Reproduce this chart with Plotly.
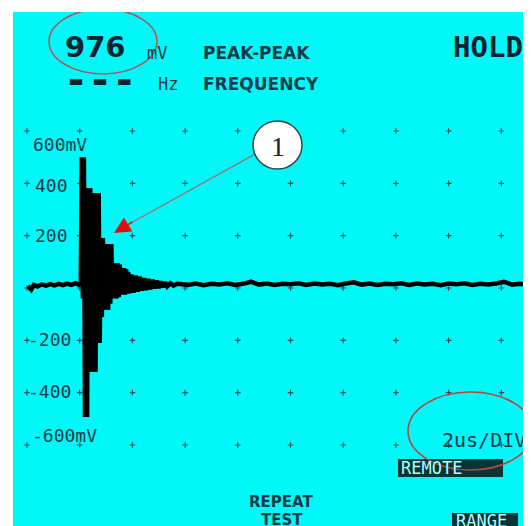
import plotly.graph_objects as go

# ---------------- data (time in microseconds, amplitude in mV) ----------------
pre_t = [0.04, 0.16, 0.26, 0.40, 0.56, 0.72, 0.88, 1.04, 1.20, 1.36, 1.52, 1.68, 1.84, 1.96, 2.04]
pre_v = [8, -6, 12, 6, 14, 9, 15, 10, 16, 11, 17, 12, 18, 13, 16]

ring_t = [2.08, 2.12, 2.16, 2.20, 2.24, 2.28, 2.32, 2.36, 2.40, 2.44,
          2.48, 2.52, 2.56, 2.60, 2.64, 2.68, 2.72, 2.76, 2.80, 2.84,
          2.88, 2.92, 2.96, 3.00, 3.04, 3.08, 3.12, 3.16, 3.20, 3.24,
          3.28, 3.32, 3.36, 3.40, 3.44, 3.48, 3.52, 3.56, 3.60, 3.64,
          3.68, 3.72, 3.76, 3.80, 3.84, 3.88]
ring_v = [500, -40, 500, -493, 382, -493, 382, -46, 382, -321,
          363, -321, 363, -321, 363, -210, 363, -210, 191, -111,
          191, -84, 80, -84, 168, -84, 168, -60, 168, -40,
          95, -40, 95, -40, 95, -35, 90, -25, 76, -25,
          76, -25, 72, -22, 62, -20]

tail_t = [3.96, 4.04, 4.12, 4.20, 4.28, 4.36, 4.44, 4.52, 4.60, 4.68,
          4.76, 4.84, 4.92, 5.00, 5.08, 5.16, 5.24, 5.32, 5.44, 5.56, 5.70]
tail_v = [52, -18, 48, -14, 44, -10, 38, -8, 35, -5,
          32, -2, 28, 0, 25, 3, 22, 6, 18, 9, 16]

post_t = [5.8, 6.1, 6.4, 6.7, 7.0, 7.3, 7.6, 7.9, 8.2, 8.5,
          8.8, 9.1, 9.4, 9.7, 10.0, 10.3, 10.6, 10.9, 11.2, 11.5,
          11.8, 12.1, 12.4, 12.7, 13.0, 13.3, 13.6, 13.9, 14.2, 14.5,
          14.8, 15.1, 15.4, 15.7, 16.0, 16.3, 16.6, 16.9, 17.2, 17.5,
          17.8, 18.1, 18.4, 18.7, 19.0, 19.2]
post_v = [15, 12, 17, 11, 16, 13, 18, 12, 16, 24,
          13, 17, 12, 16, 14, 18, 12, 17, 13, 16,
          11, 17, 22, 13, 17, 12, 16, 14, 18, 12,
          17, 13, 16, 11, 17, 14, 18, 12, 16, 13,
          17, 24, 13, 16, 12, 15]

grid_t = [0, 2, 4, 6, 8, 10, 12, 14, 16, 18]
grid_v = [-600, -400, -200, 0, 200, 400, 600]

ytick_values = [600, 400, 200, -200, -400, -600]
ytick_labels = ["600mV", "400", "200", "-200", "-400", "-600mV"]

reading_value = "976"
freq_value = "---"
timebase = "2us/DIV"

# ---------------- pixel <-> data helpers (layout only, window pixels) ----------------
PX_PER_US = 52.7 / 2
X_ZERO_PX = 27
MV_PER_PX = 1200 / 314
Y_ZERO_PX = 288


def tx(px):
    return (px - X_ZERO_PX) / PX_PER_US


def vy(py):
    return (Y_ZERO_PX - py) * MV_PER_PX


WIN_W, WIN_H = 531, 526
BODY = 8                      # default page margin around the plot div
LEFT, TOP = 13, 12            # cyan panel starts here in the window
CYAN = "#00f8f8"
INK = "#0f3c48"

t_all = pre_t + ring_t + tail_t + post_t
v_all = pre_v + ring_v + tail_v + post_v

fig = go.Figure()

# grid dots
gx = [t for t in grid_t for v in grid_v]
gy = [v for t in grid_t for v in grid_v]
fig.add_trace(go.Scatter(
    x=gx, y=gy, mode="markers",
    marker=dict(symbol="cross-thin", size=4, line=dict(width=1.1, color="#1e4c56")),
    hoverinfo="skip", showlegend=False))

# waveform
fig.add_trace(go.Scatter(
    x=t_all, y=v_all, mode="lines",
    line=dict(color="#000000", width=4.5, simplify=False),
    hoverinfo="skip", showlegend=False))

annotations = []


def txt(text, px, py, size, color=INK, family="DejaVu Sans Mono", xanchor="left",
        yanchor="middle", bold=False):
    annotations.append(dict(
        text=text, x=tx(px), y=vy(py), xref="x", yref="y", showarrow=False,
        xanchor=xanchor, yanchor=yanchor,
        font=dict(size=size, color=color, family=family, weight="bold" if bold else "normal")))


# header readouts
txt(reading_value, 63, 47, 29, color="#0a2430", family="DejaVu Sans", bold=True)
txt(freq_value, 62, 80, 40, color="#0a2430", family="DejaVu Sans Mono", bold=True)
txt("mV", 145, 53, 17)
txt("PEAK-PEAK", 201, 53, 17, family="DejaVu Sans", bold=True)
txt("Hz", 156, 84, 17)
txt("FREQUENCY", 201, 84, 17, family="DejaVu Sans", bold=True)
txt("HOLD", 451, 47, 29, color="#0a2430", bold=True)

# y-axis labels
label_x = [31, 33, 33, 26, 26, 30]
label_shift = [13, 2, 0, -1, -1, -10]
for val, lab, lx, sh in zip(ytick_values, ytick_labels, label_x, label_shift):
    py = Y_ZERO_PX - val / MV_PER_PX + sh
    txt(lab, lx, py, 18)

# timebase
txt(timebase, 440, 440, 20)

# soft keys
txt("REPEAT", 281, 502, 15, family="DejaVu Sans", xanchor="center", bold=True)
txt("TEST", 282, 520, 15, family="DejaVu Sans", xanchor="center", bold=True)

shapes = []
# REMOTE and RANGE boxes
shapes.append(dict(type="rect", xref="x", yref="y", x0=tx(398), x1=tx(503), y0=vy(459), y1=vy(477),
                   fillcolor="#0b3436", line=dict(width=0), layer="above"))
shapes.append(dict(type="rect", xref="x", yref="y", x0=tx(452), x1=tx(518), y0=vy(513), y1=vy(530),
                   fillcolor="#0b3436", line=dict(width=0), layer="above"))
txt("REMOTE", 399, 468, 17, color="#a8ffff")
txt("RANGE", 454, 521, 17, color="#a8ffff")

# red ellipses
shapes.append(dict(type="circle", xref="x", yref="y", x0=tx(49), x1=tx(157), y0=vy(9), y1=vy(74),
                   line=dict(color="#a85858", width=1.5), layer="above"))
shapes.append(dict(type="circle", xref="x", yref="y", x0=tx(408), x1=tx(533), y0=vy(392), y1=vy(470),
                   line=dict(color="#b04848", width=1.6), layer="above"))

# callout circle "1"
shapes.append(dict(type="circle", xref="x", yref="y", x0=tx(253), x1=tx(302), y0=vy(121), y1=vy(169),
                   fillcolor="#ffffff", line=dict(color="#2a4848", width=1.5), layer="above"))
txt("1", 277.5, 146, 28, color="#222222", family="Liberation Serif", xanchor="center")

# arrow from callout to the waveform
annotations.append(dict(x=tx(122), y=vy(228), ax=tx(255), ay=vy(154), xref="x", yref="y",
                        axref="x", ayref="y", text="", showarrow=True, arrowhead=0,
                        arrowwidth=1.3, arrowcolor="#a07070"))
annotations.append(dict(x=tx(114), y=vy(233), ax=tx(134), ay=vy(221), xref="x", yref="y",
                        axref="x", ayref="y", text="", showarrow=True, arrowhead=2,
                        arrowsize=2.2, arrowwidth=1.5, arrowcolor="#e01010"))

fig.update_layout(
    width=WIN_W - BODY, height=WIN_H - BODY, autosize=False,
    margin=dict(l=LEFT - BODY, r=0, t=TOP - BODY, b=0, pad=0),
    paper_bgcolor="#ffffff", plot_bgcolor=CYAN,
    xaxis=dict(range=[tx(LEFT), tx(WIN_W)], visible=False, fixedrange=True),
    yaxis=dict(range=[vy(WIN_H), vy(TOP)], visible=False, fixedrange=True),
    annotations=annotations, shapes=shapes,
)

fig.write_html("out.html")
